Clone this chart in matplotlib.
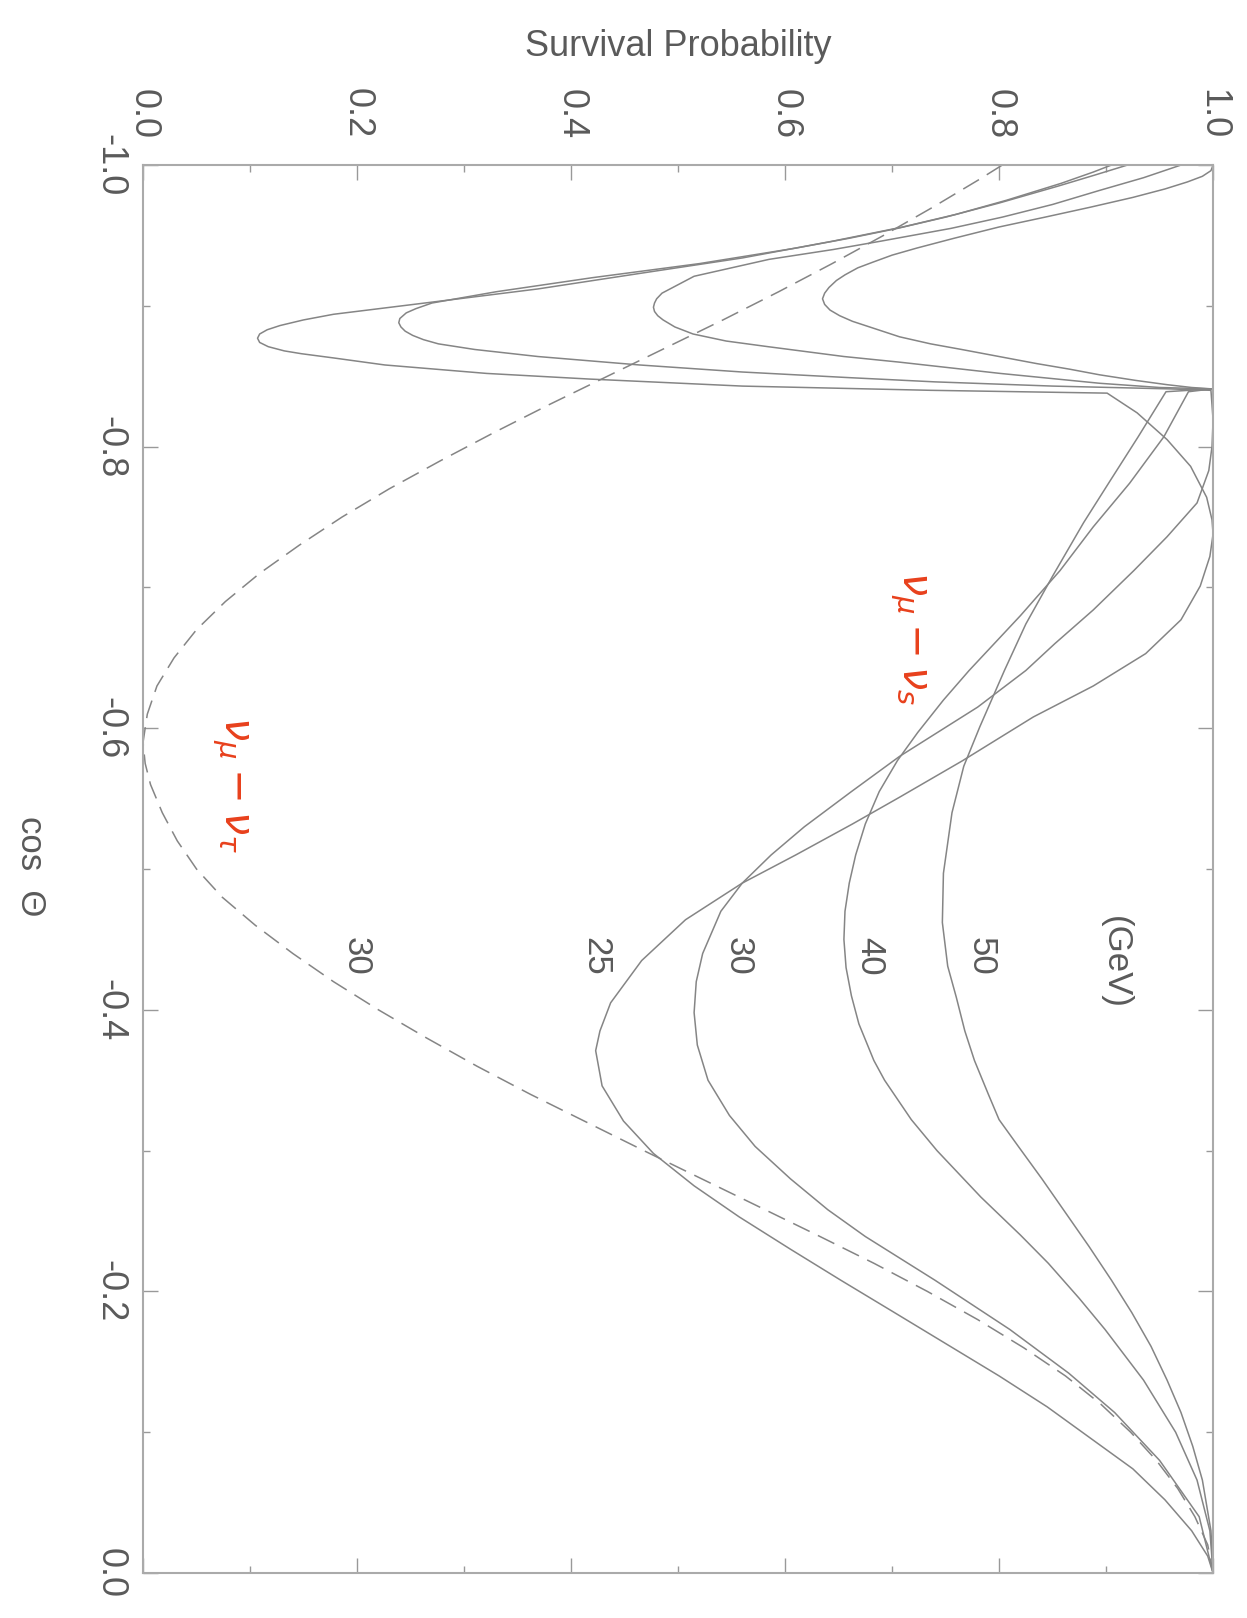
import matplotlib
matplotlib.use('Agg')
import matplotlib.pyplot as plt

plt.rcParams['font.family'] = ['Liberation Sans', 'DejaVu Sans']

# numu -> nus, 25 GeV  (cos theta, survival probability)
cos_25 = [-1.0, -0.995, -0.987, -0.975, -0.965, -0.956, -0.946, -0.934, -0.923, -0.912, -0.903,
          -0.894, -0.890, -0.886, -0.883, -0.880, -0.877, -0.874, -0.871, -0.868, -0.866, -0.863,
          -0.858, -0.852, -0.848, -0.843, -0.840, -0.838, -0.824, -0.805, -0.786, -0.764, -0.748,
          -0.738, -0.722, -0.701, -0.677, -0.653, -0.630, -0.608, -0.577, -0.551, -0.532, -0.510,
          -0.490, -0.464, -0.435, -0.405, -0.385, -0.371, -0.346, -0.321, -0.298, -0.275, -0.253,
          -0.230, -0.208, -0.186, -0.163, -0.140, -0.118, -0.096, -0.074, -0.052, -0.030, -0.012,
          0.0]
p_25 = [0.905, 0.888, 0.858, 0.807, 0.760, 0.710, 0.645, 0.560, 0.464, 0.369, 0.274,
        0.178, 0.150, 0.128, 0.116, 0.109, 0.107, 0.109, 0.117, 0.132, 0.148, 0.178,
        0.226, 0.321, 0.417, 0.560, 0.736, 0.901, 0.929, 0.957, 0.979, 0.994, 0.999,
        1.0, 0.997, 0.988, 0.970, 0.937, 0.888, 0.832, 0.766, 0.707, 0.663, 0.610,
        0.560, 0.507, 0.466, 0.437, 0.427, 0.423, 0.429, 0.449, 0.477, 0.515, 0.557,
        0.605, 0.652, 0.700, 0.750, 0.800, 0.845, 0.885, 0.925, 0.955, 0.980, 0.995,
        1.0]

# 30 GeV
cos_30 = [-1.0, -0.993, -0.985, -0.973, -0.963, -0.955, -0.948, -0.941, -0.930, -0.920, -0.910,
          -0.902, -0.898, -0.895, -0.891, -0.888, -0.885, -0.882, -0.879, -0.876, -0.873, -0.869,
          -0.864, -0.858, -0.853, -0.849, -0.846, -0.843, -0.841, -0.840, -0.819, -0.800, -0.783,
          -0.760, -0.736, -0.712, -0.684, -0.660, -0.641, -0.615, -0.580, -0.555, -0.530, -0.510,
          -0.490, -0.470, -0.440, -0.420, -0.398, -0.375, -0.350, -0.325, -0.303, -0.280, -0.258,
          -0.239, -0.208, -0.173, -0.142, -0.114, -0.080, -0.040, 0.0]
p_30 = [0.920, 0.890, 0.855, 0.800, 0.750, 0.705, 0.660, 0.610, 0.520, 0.420, 0.330,
        0.270, 0.255, 0.246, 0.240, 0.239, 0.241, 0.245, 0.252, 0.262, 0.276, 0.310,
        0.369, 0.464, 0.560, 0.660, 0.740, 0.850, 0.960, 0.998, 1.0, 0.999, 0.996,
        0.985, 0.957, 0.926, 0.888, 0.852, 0.825, 0.780, 0.707, 0.662, 0.618, 0.587,
        0.560, 0.540, 0.523, 0.517, 0.515, 0.518, 0.528, 0.548, 0.572, 0.605, 0.640,
        0.675, 0.740, 0.810, 0.865, 0.908, 0.950, 0.987, 1.0]

# 40 GeV
cos_40 = [-1.0, -0.991, -0.982, -0.972, -0.963, -0.955, -0.946, -0.940, -0.933, -0.921, -0.909,
          -0.905, -0.902, -0.899, -0.896, -0.893, -0.890, -0.885, -0.880, -0.875, -0.871, -0.864,
          -0.860, -0.852, -0.845, -0.842, -0.841, -0.839, -0.807, -0.774, -0.743, -0.712, -0.680,
          -0.641, -0.620, -0.597, -0.577, -0.555, -0.532, -0.510, -0.490, -0.470, -0.450, -0.430,
          -0.410, -0.390, -0.364, -0.350, -0.322, -0.300, -0.267, -0.240, -0.220, -0.195, -0.173,
          -0.137, -0.100, -0.066, -0.030, 0.0]
p_40 = [0.970, 0.935, 0.894, 0.850, 0.803, 0.755, 0.690, 0.645, 0.585, 0.515, 0.485,
        0.480, 0.478, 0.477, 0.478, 0.481, 0.486, 0.497, 0.514, 0.545, 0.584, 0.655,
        0.707, 0.801, 0.894, 0.950, 0.999, 0.977, 0.954, 0.922, 0.888, 0.857, 0.820,
        0.772, 0.748, 0.724, 0.705, 0.688, 0.675, 0.666, 0.660, 0.656, 0.655, 0.657,
        0.662, 0.669, 0.683, 0.693, 0.718, 0.742, 0.783, 0.820, 0.846, 0.875, 0.899,
        0.935, 0.965, 0.985, 0.997, 1.0]

# 50 GeV
cos_50 = [-1.0, -0.996, -0.992, -0.988, -0.983, -0.977, -0.970, -0.963, -0.956, -0.948, -0.941,
          -0.936, -0.931, -0.927, -0.922, -0.918, -0.913, -0.909, -0.905, -0.901, -0.897, -0.893,
          -0.889, -0.885, -0.878, -0.873, -0.869, -0.864, -0.859, -0.855, -0.851, -0.847, -0.844,
          -0.842, -0.841, -0.839, -0.807, -0.776, -0.746, -0.708, -0.674, -0.641, -0.601, -0.573,
          -0.540, -0.497, -0.462, -0.431, -0.409, -0.385, -0.364, -0.340, -0.322, -0.303, -0.280,
          -0.256, -0.232, -0.208, -0.185, -0.161, -0.137, -0.114, -0.090, -0.066, -0.030, 0.0]
p_50 = [1.0, 0.998, 0.990, 0.976, 0.955, 0.925, 0.885, 0.843, 0.800, 0.758, 0.723,
        0.700, 0.682, 0.668, 0.656, 0.648, 0.641, 0.637, 0.635, 0.637, 0.642, 0.651,
        0.663, 0.679, 0.707, 0.736, 0.765, 0.800, 0.835, 0.866, 0.894, 0.928, 0.957,
        0.980, 0.999, 0.956, 0.930, 0.904, 0.879, 0.850, 0.825, 0.805, 0.782, 0.767,
        0.756, 0.748, 0.747, 0.752, 0.760, 0.768, 0.777, 0.790, 0.800, 0.818, 0.840,
        0.862, 0.884, 0.905, 0.924, 0.942, 0.957, 0.970, 0.981, 0.990, 0.998, 1.0]

# numu -> nutau, 30 GeV (dashed)
cos_tau = [-1.0, -0.99, -0.97, -0.95, -0.93, -0.91, -0.89, -0.87, -0.85, -0.83, -0.81,
           -0.79, -0.77, -0.75, -0.73, -0.71, -0.69, -0.67, -0.65, -0.63, -0.61, -0.59,
           -0.575, -0.56, -0.54, -0.52, -0.50, -0.48, -0.46, -0.44, -0.42, -0.40, -0.38,
           -0.36, -0.34, -0.32, -0.30, -0.28, -0.26, -0.24, -0.22, -0.20, -0.18, -0.16,
           -0.14, -0.12, -0.10, -0.08, -0.06, -0.04, -0.02, 0.0]
p_tau = [0.803, 0.782, 0.738, 0.692, 0.644, 0.594, 0.542, 0.488, 0.434, 0.380, 0.328,
         0.278, 0.230, 0.186, 0.146, 0.109, 0.077, 0.050, 0.029, 0.013, 0.004, 0.0,
         0.002, 0.007, 0.018, 0.032, 0.050, 0.074, 0.105, 0.140, 0.178, 0.220, 0.265,
         0.312, 0.362, 0.415, 0.468, 0.522, 0.576, 0.630, 0.683, 0.733, 0.780, 0.823,
         0.862, 0.895, 0.923, 0.947, 0.967, 0.983, 0.995, 1.0]

p_ticks = [0.0, 0.2, 0.4, 0.6, 0.8, 1.0]
p_labels = ['0.0', '0.2', '0.4', '0.6', '0.8', '1.0']
cos_ticks = [-1.0, -0.8, -0.6, -0.4, -0.2, 0.0]
cos_labels = ['-1.0', '-0.8', '-0.6', '-0.4', '-0.2', '0.0']

energy_labels = ['30', '25', '30', '40', '50', '(GeV)']
energy_label_p = [0.199, 0.423, 0.556, 0.679, 0.783, 0.909]
energy_label_cos = [-0.438, -0.438, -0.438, -0.438, -0.438, -0.434]

grey = '#5a5a5a'
line_col = '#858585'

fig = plt.figure(figsize=(12.47, 16.18), dpi=100)
ax = fig.add_axes([0.1147, 0.0278, 0.8581, 0.8702])

for c, p in [(cos_25, p_25), (cos_30, p_30), (cos_40, p_40), (cos_50, p_50)]:
    ax.plot(p, c, color=line_col, lw=1.1)
ax.plot(p_tau, cos_tau, color=line_col, lw=1.1, dashes=(12, 6))

ax.set_xlim(0, 1)
ax.set_ylim(0, -1)

ax.set_xticks(p_ticks)
ax.set_xticklabels(p_labels)
ax.set_xticks([0.1, 0.3, 0.5, 0.7, 0.9], minor=True)
ax.set_yticks(cos_ticks)
ax.set_yticklabels(cos_labels)
ax.set_yticks([-0.9, -0.7, -0.5, -0.3, -0.1], minor=True)

ax.tick_params(which='both', direction='in', top=True, bottom=True, left=True, right=True,
               labeltop=True, labelbottom=False, color='#999999', width=1)
ax.tick_params(which='major', length=11)
ax.tick_params(which='minor', length=5)
ax.tick_params(axis='x', labelsize=26, pad=19, labelrotation=-90, labelcolor=grey)
ax.tick_params(axis='y', labelsize=26, pad=11, labelrotation=-90, labelcolor=grey)
for lab in ax.get_yticklabels():
    lab.set_va('center')

for s in ax.spines.values():
    s.set_color('#aaaaaa')
    s.set_linewidth(1.5)

ax.text(0.5, 1.0845, 'Survival Probability', transform=ax.transAxes,
        ha='center', va='center', fontsize=26, color=grey)
ax.text(-0.105, 0.502, 'cos  \u0398', transform=ax.transAxes, rotation=-90,
        ha='center', va='center', fontsize=25, color=grey)

for txt, px, cy in zip(energy_labels, energy_label_p, energy_label_cos):
    ax.text(px, cy, txt, rotation=-90, ha='center', va='center', fontsize=25, color=grey)

ax.text(0.715, -0.664, r'$\nu_\mu - \nu_s$', rotation=-90, ha='center', va='center',
        fontsize=30, color='#e8401c')
ax.text(0.081, -0.560, r'$\nu_\mu - \nu_\tau$', rotation=-90, ha='center', va='center',
        fontsize=30, color='#e8401c')

fig.savefig('out.png', dpi=100)
